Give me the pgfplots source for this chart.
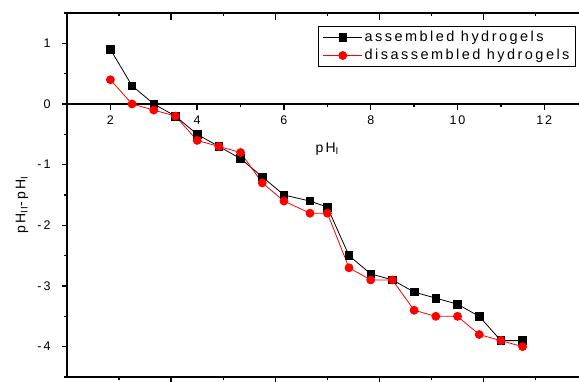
\documentclass[border=0pt]{standalone}
\usepackage{fontspec}
\setmainfont{Liberation Sans}[LetterSpace=15]
\usepackage{pgfplots}
\pgfplotsset{compat=1.18}
\pgfplotsset{
  common/.style={
    scale only axis, width=512pt, height=364pt,
    xmin=1, xmax=12.8, ymin=-4.5, ymax=1.5,
    at={(0,0)}, anchor=south west,
    axis line style={line width=1.4pt, black},
    every tick/.style={black, line width=1.4pt},
    /pgf/number format/assume math mode=true,
    tick label style={font=\fontsize{12.5}{14}\selectfont},
    clip=false,
  }
}
\begin{document}
\begin{tikzpicture}
% top ticks (inside)
\begin{axis}[common,
  axis y line=none,
  xtick pos=right, tick align=inside,
  xtick={3.4,5.8,8.2,10.6}, minor xtick={2.2,4.6,7,9.4,11.8},
  xticklabel=\empty, ytick=\empty,
  major tick length=7pt, minor tick length=3pt]
\end{axis}
% zero line with labels
\begin{axis}[common, ymin=0, ymax=1.5, height=91pt, at={(0,273pt)},
  axis y line=none,
  xtick pos=left, tick align=outside,
  xtick={2,4,...,12}, minor xtick={3,5,...,11},
  ytick=\empty,
  major tick length=6pt, minor tick length=3pt,
  xticklabel style={yshift=-2pt}]
\end{axis}
% main axis with data
\begin{axis}[common,
  axis y line*=left, ytick pos=left, xtick pos=left, tick align=outside,
  xtick={3.4,5.8,8.2,10.6}, minor xtick={2.2,4.6,7,9.4,11.8},
  xticklabel=\empty,
  ytick={-4,-3,...,1}, minor ytick={-4.5,-3.5,...,1.5},
  major tick length=5pt, minor tick length=3pt,
  yticklabel style={xshift=-8pt},
  legend style={at={(rel axis cs:0.994,0.964)}, anchor=north east,
    draw=black, line width=0.8pt, inner xsep=4pt, inner ysep=2pt,
    font=\fontsize{14.5}{17}\selectfont\addfontfeature{LetterSpace=17}, row sep=0pt, column sep=0pt,
    nodes={inner ysep=2pt, inner xsep=2pt, text height=10.5pt, text depth=3.5pt}},
  legend cell align=left,
  legend image code/.code={\draw[mark repeat=2,mark phase=2,#1] plot coordinates {(0pt,0pt)(19.5pt,0pt)(39pt,0pt)};},
  ]
\addplot[black, line width=0.8pt, mark=square*, mark size=3.8pt, mark options={solid, fill=black}] coordinates {
(2,0.9)(2.5,0.3)(3,0)(3.5,-0.2)(4,-0.5)(4.5,-0.7)(5,-0.9)(5.5,-1.2)(6,-1.5)(6.6,-1.6)(7,-1.7)(7.5,-2.5)(8,-2.8)(8.5,-2.9)(9,-3.1)(9.5,-3.2)(10,-3.3)(10.5,-3.5)(11,-3.9)(11.5,-3.9)};
\addlegendentry{assembled hydrogels}
\addplot[red, line width=0.8pt, mark=*, mark size=4pt, mark options={solid, fill=red}] coordinates {
(2,0.4)(2.5,0)(3,-0.1)(3.5,-0.2)(4,-0.6)(4.5,-0.7)(5,-0.8)(5.5,-1.3)(6,-1.6)(6.6,-1.8)(7,-1.8)(7.5,-2.7)(8,-2.9)(8.5,-2.9)(9,-3.4)(9.5,-3.5)(10,-3.5)(10.5,-3.8)(11,-3.9)(11.5,-4.0)};
\addlegendentry{disassembled hydrogels}
\node[anchor=base, font=\fontsize{14}{16}\selectfont] at (axis cs:7.0,-0.8) {pH\textsubscript{I}};
\node[rotate=90, font=\fontsize{14}{16}\selectfont] at (axis cs:-0.037,-1.665) {pH\textsubscript{II}-pH\textsubscript{I}};
\end{axis}
\pgfresetboundingbox
\path[use as bounding box] (-67pt,-4pt) rectangle (512pt,377pt);
\end{tikzpicture}
\end{document}
